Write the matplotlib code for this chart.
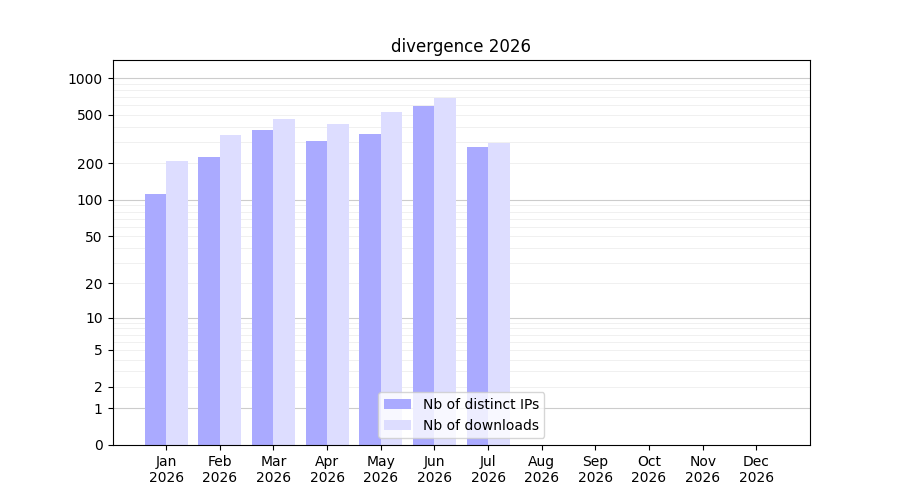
import matplotlib
matplotlib.use("Agg")
import matplotlib.pyplot as plt
import numpy as np

months = ["Jan\n2026","Feb\n2026","Mar\n2026","Apr\n2026","May\n2026","Jun\n2026",
          "Jul\n2026","Aug\n2026","Sep\n2026","Oct\n2026","Nov\n2026","Dec\n2026"]
ips = [112, 225, 376, 305, 348, 590, 272]
downloads = [209, 342, 463, 421, 527, 687, 293]
yticks = [0, 1, 2, 5, 10, 20, 50, 100, 200, 500, 1000]

fig, ax = plt.subplots(figsize=(9, 5), dpi=100)
ax.set_yscale('function', functions=(lambda y: np.log10(np.maximum(y, 0) + 1),
                                      lambda v: 10**v - 1))
x = np.arange(len(ips))
ax.bar(x - 0.2, ips, width=0.4, color='#aaaaff', label='Nb of distinct IPs')
ax.bar(x + 0.2, downloads, width=0.4, color='#ddddff', label='Nb of downloads')

minor = [m * d for d in (1, 10, 100, 1000) for m in range(2, 10) if m * d < 1400]
ax.set_yticks(minor, minor=True)
ax.set_yticks(yticks)
ax.set_yticklabels([str(t) for t in yticks])
ax.tick_params(axis='y', which='minor', length=0)
for v in [1, 10, 100, 1000]:
    ax.axhline(v, color='#cccccc', lw=0.8, zorder=0)
for v in minor:
    ax.axhline(v, color='#eeeeee', lw=0.6, zorder=0)
ax.set_ylim(0, 1405)
ax.set_xlim(-1, 12)
ax.set_xticks(np.arange(12))
ax.set_xticklabels(months)
ax.set_title('divergence 2026')
ax.legend(loc='lower center')
fig.savefig('out.png')
